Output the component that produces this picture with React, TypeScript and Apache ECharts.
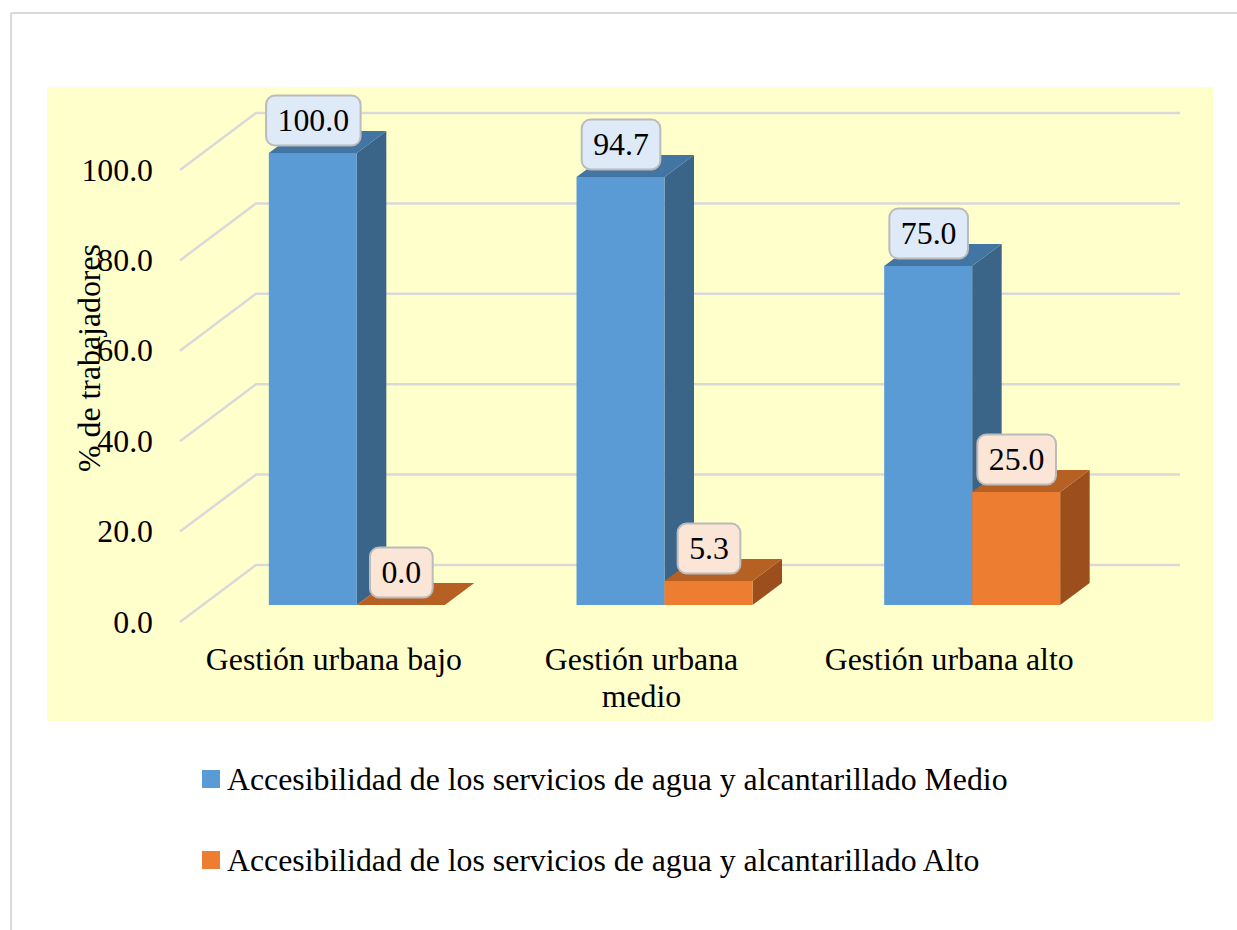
import React, { useEffect, useRef } from "react";
import * as echarts from "echarts";

const categories = ["Gestión urbana bajo", "Gestión urbana\nmedio", "Gestión urbana alto"];
const medioName = "Accesibilidad de los servicios de agua y alcantarillado Medio";
const altoName = "Accesibilidad de los servicios de agua y alcantarillado Alto";
const medioValues = [100.0, 94.7, 75.0];
const altoValues = [0.0, 5.3, 25.0];
const yTicks = [0, 20, 40, 60, 80, 100];

const FONT = "'Liberation Serif', 'Times New Roman', serif";
const FONT_SIZE = 31.8;
const WALL_DX = 76;
const WALL_DY = -57;
const BAR_DX = 23;
const BAR_DY = -17;
const BAR_W = 88;
const DEPTH_DX = 29.5;
const DEPTH_DY = -22;

function barRenderer(side: number, colors: { front: string; top: string; side: string; label: string }) {
  return (_params: any, api: any) => {
    const cat = api.value(0);
    const val = api.value(1);
    const topPt = api.coord([cat, val]);
    const basePt = api.coord([cat, 0]);
    const x0 = topPt[0] + BAR_DX + (side === 0 ? -BAR_W : 0);
    const x1 = x0 + BAR_W;
    const yTop = topPt[1] + BAR_DY;
    const yBase = basePt[1] + BAR_DY;
    const text = val.toFixed(1);
    return {
      type: "group",
      children: [
        {
          type: "polygon",
          shape: { points: [[x1, yTop], [x1 + DEPTH_DX, yTop + DEPTH_DY], [x1 + DEPTH_DX, yBase + DEPTH_DY], [x1, yBase]] },
          style: { fill: colors.side },
        },
        {
          type: "polygon",
          shape: { points: [[x0, yTop], [x1, yTop], [x1 + DEPTH_DX, yTop + DEPTH_DY], [x0 + DEPTH_DX, yTop + DEPTH_DY]] },
          style: { fill: colors.top },
        },
        {
          type: "rect",
          shape: { x: x0, y: yTop, width: BAR_W, height: yBase - yTop },
          style: { fill: colors.front },
        },
        {
          type: "text",
          z2: 50,
          x: (x0 + x1) / 2 + 0.5,
          y: yTop - 32.5,
          style: {
            text,
            align: "center",
            verticalAlign: "middle",
            font: `${FONT_SIZE}px ${FONT}`,
            fill: "#000",
            backgroundColor: colors.label,
            borderColor: "#BBBBBB",
            borderWidth: 2,
            borderRadius: 8,
            padding: [8, 10.5, 8, 10.5],
          },
        },
      ],
    };
  };
}

function wallRenderer(params: any, api: any) {
  const v = api.value(1);
  const p = api.coord([0, v]);
  const left = params.coordSys.x;
  const right = left + params.coordSys.width;
  return {
    type: "polyline",
    shape: { points: [[left, p[1]], [left + WALL_DX, p[1] + WALL_DY], [right + WALL_DX + 1, p[1] + WALL_DY]] },
    style: { fill: "none", stroke: "#D9D9D9", lineWidth: 2.5 },
  };
}

export default function App() {
  const ref = useRef<HTMLDivElement>(null);
  useEffect(() => {
    const chart = echarts.init(ref.current!, undefined, { renderer: "svg" });
    chart.setOption({
      animation: false,
      backgroundColor: "#fff",
      textStyle: { fontFamily: FONT },
      graphic: {
        elements: [
          { type: "rect", z: -10, shape: { x: 47, y: 87, width: 1166, height: 634 }, style: { fill: "#FFFFCC" } },
          { type: "line", z: -10, shape: { x1: 11, y1: 13, x2: 1237, y2: 13 }, style: { stroke: "#D9D9D9", lineWidth: 2 } },
          { type: "line", z: -10, shape: { x1: 11, y1: 13, x2: 11, y2: 930 }, style: { stroke: "#D9D9D9", lineWidth: 2 } },
        ],
      },
      grid: { left: 180, top: 170, width: 923, height: 452, containLabel: false },
      xAxis: {
        type: "category",
        data: categories,
        axisLine: { show: false },
        axisTick: { show: false },
        axisLabel: { color: "#000", fontSize: FONT_SIZE, fontFamily: FONT, margin: 19, lineHeight: 37, interval: 0 },
      },
      yAxis: {
        type: "value",
        min: 0,
        max: 100,
        interval: 20,
        name: "% de trabajadores",
        nameLocation: "middle",
        nameGap: 75,
        nameRotate: 90,
        nameMoveOverlap: false,
        nameTextStyle: { color: "#000", fontSize: FONT_SIZE, fontFamily: FONT, padding: [0, 0, 0, 76] },
        axisLine: { show: false },
        axisTick: { show: false },
        splitLine: { show: false },
        axisLabel: { color: "#000", fontSize: FONT_SIZE, fontFamily: FONT, margin: 27, padding: [0, 0, 4, 0], formatter: (v: number) => v.toFixed(1) },
      },
      legend: {
        orient: "vertical",
        left: 197,
        top: 758,
        itemWidth: 18,
        itemHeight: 18,
        itemGap: 49,
        icon: "rect",
        data: [medioName, altoName],
        textStyle: { color: "#000", fontSize: FONT_SIZE, fontFamily: FONT, padding: [0, 0, 0, 2] },
      },
      series: [
        {
          type: "custom",
          name: "walls",
          z: 1,
          silent: true,
          data: yTicks.map((v) => [0, v]),
          renderItem: wallRenderer,
          encode: { x: 0, y: 1 },
        },
        {
          type: "custom",
          name: medioName,
          z: 2,
          itemStyle: { color: "#5B9BD5" },
          data: medioValues.map((v, i) => [i, v]),
          renderItem: barRenderer(0, { front: "#5B9BD5", top: "#4375A2", side: "#3A6488", label: "#DEEAF7" }),
          encode: { x: 0, y: 1 },
        },
        {
          type: "custom",
          name: altoName,
          z: 3,
          itemStyle: { color: "#ED7D31" },
          data: altoValues.map((v, i) => [i, v]),
          renderItem: barRenderer(1, { front: "#ED7D31", top: "#B66024", side: "#9C4F1C", label: "#FBE5D6" }),
          encode: { x: 0, y: 1 },
        },
      ],
    });
    return () => chart.dispose();
  }, []);
  return <div ref={ref} style={{ position: "fixed", left: 0, top: 0, width: 1237, height: 930 }} />;
}
